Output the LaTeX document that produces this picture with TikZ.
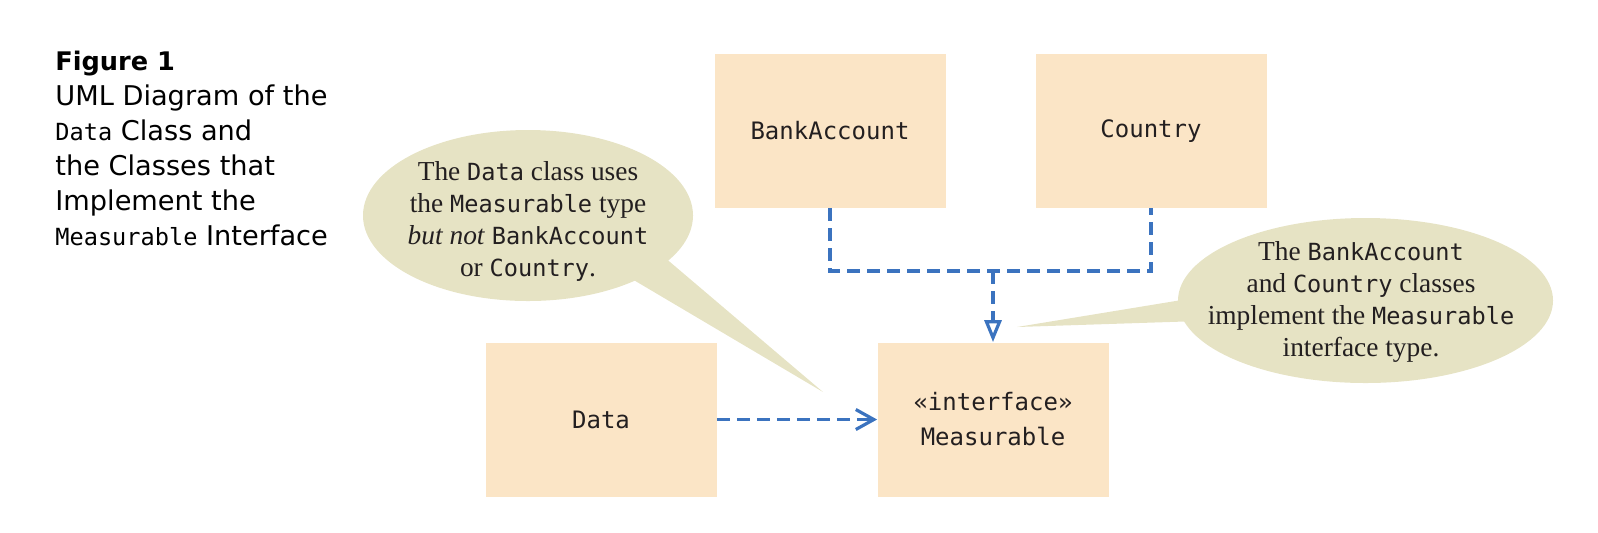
\documentclass[tikz,border=0pt]{standalone}
\usepackage{fontspec}
\setmainfont{Liberation Serif}
\setsansfont{DejaVu Sans}
\setmonofont{DejaVu Sans Mono}
\usetikzlibrary{arrows.meta}
\definecolor{boxfill}{HTML}{FBE5C6}
\definecolor{notefill}{HTML}{E6E3C4}
\definecolor{deplink}{HTML}{3B73BF}
\definecolor{inktext}{HTML}{231F20}
\tikzset{
  classbox/.style={fill=boxfill,minimum width=115.5pt,minimum height=77pt,inner sep=0pt,
    text=inktext,font=\fontsize{12}{17.5}\selectfont\ttfamily,align=center},
  dep/.style={deplink,line width=1.8pt,dash pattern=on 6.5pt off 3.5pt},
  notetext/.style={text=inktext,align=center,inner sep=0pt,
    font=\fontsize{13.7}{16}\selectfont}
}
\newcommand{\cd}[1]{{\fontsize{11.8}{16}\selectfont\ttfamily #1}}
\begin{document}
\begin{tikzpicture}[x=0.5pt,y=-0.5pt]
\useasboundingbox (0,0) rectangle (1598,532);
% caption
\node (caption) [anchor=north west,inner sep=0pt,align=left,text=black,
  font=\fontsize{13.6}{17.5}\selectfont\sffamily] at (55,51)
  {{\fontsize{12.8}{17.5}\selectfont\bfseries Figure 1}\\UML Diagram of the\\\cd{Data} Class and\\the Classes that\\Implement the\\\cd{Measurable} Interface};
% callouts
\fill[notefill] (528,215.5) ellipse [x radius=165,y radius=85.5];
\fill[notefill] (650,245) -- (823,392) -- (610,266) -- cycle;
\fill[notefill] (1365.5,300.5) ellipse [x radius=187.5,y radius=82.5];
\fill[notefill] (1200,297) -- (1017,327) -- (1200,321) -- cycle;
\node (usesnote) [notetext] at (528,221)
  {The \cd{Data} class uses\\the \cd{Measurable} type\\\textit{but not} \cd{BankAccount}\\or \cd{Country}.};
\node (implnote) [notetext] at (1361,302)
  {The \cd{BankAccount}\\and \cd{Country} classes\\implement the \cd{Measurable}\\interface type.};
% classes
\node (bank) [classbox] at (830,131) {BankAccount};
\node (country) [classbox] at (1151,131) {Country};
\node (data) [classbox] at (601,419.5) {Data};
\node (measurable) [classbox] at (993,419.5) {«interface»\\Measurable};
\coordinate (join) at (993,271);
\draw[dep] (bank.south) |- (join) -| (country.south);
\draw[dep,-{Triangle[open,length=11pt,width=8.5pt,line width=1.6pt]}] (join) -- (measurable.north);
\draw[dep,-{Straight Barb[length=9pt,width=10pt,line width=1.6pt]}] (data.east) -- (measurable.west);
\end{tikzpicture}
\end{document}
